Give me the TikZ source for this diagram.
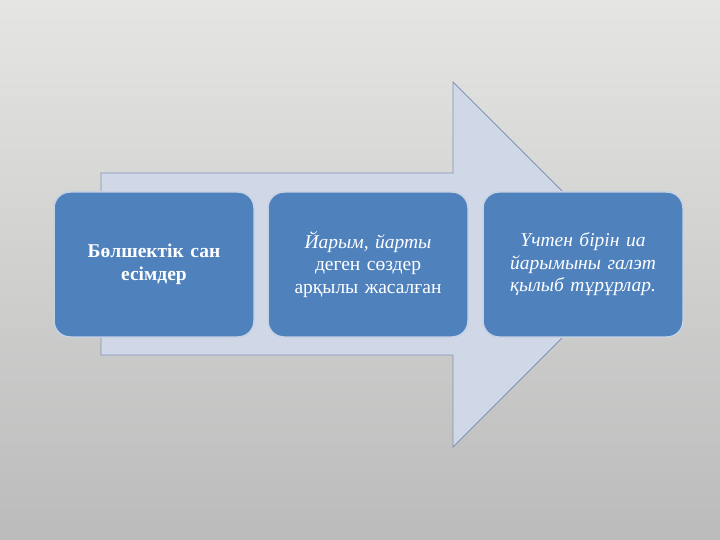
\documentclass[tikz,border=0pt]{standalone}
\usepackage{fontspec}
\setmainfont{Liberation Serif}
\definecolor{bgtop}{HTML}{E5E5E3}
\definecolor{bgbot}{HTML}{BBBBBB}
\definecolor{arrowfill}{HTML}{D0D8E8}
\definecolor{arrowline}{HTML}{7F93B5}
\definecolor{boxblue}{HTML}{4F81BD}
\definecolor{boxhalo}{HTML}{C6D2E4}
\tikzset{
  stage/.style={rectangle, rounded corners=16pt, fill=boxblue, draw=boxhalo, line width=1.5pt,
    minimum width=200pt, minimum height=145pt, text width=190pt, align=center,
    text=white, font=\fontsize{19.5}{22.5}\selectfont, inner sep=0pt},
  bigarrow/.style={fill=arrowfill, draw=arrowline, line width=0.8pt}
}
\begin{document}
\begin{tikzpicture}[x=1pt,y=-1pt]
\shade[top color=bgtop, bottom color=bgbot] (0,0) rectangle (720,540);
\useasboundingbox (0,0) rectangle (720,540);
\draw[bigarrow] (101,173) -- (453,173) -- (453,82) -- (635.5,264.5) -- (453,447) -- (453,355) -- (101,355) -- cycle;
\node[stage] (b1) at (154,264.5) {\textbf{Бөлшектік сан\\есімдер}};
\node[stage] (b2) at (368,264.5) {\textit{Йарым, йарты}\\деген сөздер\\арқылы жасалған};
\node[stage] (b3) at (583,264.5) {\textit{Үчтен бірін иа\\йарымыны галэт\\қылыб тұрұрлар.}};
\end{tikzpicture}
\end{document}
